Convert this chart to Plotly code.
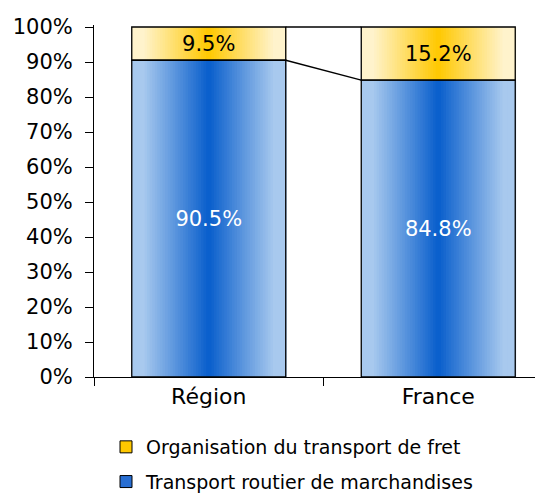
import plotly.graph_objects as go

categories = ["Région", "France"]
transport_routier = [90.5, 84.8]
organisation_fret = [9.5, 15.2]
series_names = ["Organisation du transport de fret", "Transport routier de marchandises"]
y_ticks = [0, 10, 20, 30, 40, 50, 60, 70, 80, 90, 100]
y_tick_labels = ["0%", "10%", "20%", "30%", "40%", "50%", "60%", "70%", "80%", "90%", "100%"]

FONT = "DejaVu Sans"
BAR_W = 0.671
N = 60

BLUE_EDGE = (168, 201, 238)
BLUE_CENTER = (8, 94, 204)
YEL_EDGE = (255, 243, 204)
YEL_CENTER = (255, 200, 0)


def grad_color(edge, center, t):
    d = abs(t - 0.5) * 2
    m = min(d / 0.85, 1.0)
    c = [round(center[i] + (edge[i] - center[i]) * m) for i in range(3)]
    return f"rgb({c[0]},{c[1]},{c[2]})"


xs = list(range(len(categories)))
fig = go.Figure()


def add_gradient(vals, bases, edge, center):
    sw = BAR_W / N
    gx, gy, gb, goff, gcol = [], [], [], [], []
    for k in range(N):
        t = (k + 0.5) / N
        for i, x in enumerate(xs):
            gx.append(x)
            gy.append(vals[i])
            gb.append(bases[i])
            goff.append(-BAR_W / 2 + k * sw)
            gcol.append(grad_color(edge, center, t))
    fig.add_trace(go.Bar(
        x=gx, y=gy, base=gb, offset=goff, width=sw * 1.35,
        marker=dict(color=gcol, line=dict(width=0)),
        showlegend=False, hoverinfo="skip"))


add_gradient(transport_routier, [0] * len(xs), BLUE_EDGE, BLUE_CENTER)
add_gradient(organisation_fret, transport_routier, YEL_EDGE, YEL_CENTER)

fig.add_trace(go.Bar(
    x=xs, y=transport_routier, base=[0] * len(xs), width=BAR_W,
    marker=dict(color="rgba(0,0,0,0)", line=dict(color="black", width=1.3)),
    text=[f"{v:.1f}%" for v in transport_routier], textposition="inside",
    insidetextanchor="middle", textangle=0,
    textfont=dict(family=FONT, size=21, color="white"),
    showlegend=False, hoverinfo="skip"))
fig.add_trace(go.Bar(
    x=xs, y=organisation_fret, base=transport_routier, width=BAR_W,
    marker=dict(color="rgba(0,0,0,0)", line=dict(color="black", width=1.3)),
    text=[f"{v:.1f}%" for v in organisation_fret], textposition="inside",
    insidetextanchor="middle", textangle=0,
    textfont=dict(family=FONT, size=21, color="black"),
    showlegend=False, hoverinfo="skip"))

tops = [round(transport_routier[i] + organisation_fret[i], 6) for i in xs]
line_x = [xs[0] + BAR_W / 2, xs[1] - BAR_W / 2]
fig.add_trace(go.Scatter(
    x=line_x, y=transport_routier, mode="lines",
    line=dict(color="black", width=1.3),
    showlegend=False, hoverinfo="skip"))
fig.add_trace(go.Scatter(
    x=line_x, y=tops, mode="lines",
    line=dict(color="black", width=1.3),
    showlegend=False, hoverinfo="skip"))

fig.add_trace(go.Bar(x=[None], y=[None], name=series_names[0],
                     marker=dict(color="rgb(255,200,0)", line=dict(color="black", width=1)),
                     legendgroup="a"))
fig.add_trace(go.Bar(x=[None], y=[None], name=series_names[1],
                     marker=dict(color="rgb(40,110,210)", line=dict(color="black", width=1)),
                     legendgroup="b"))

# The page body adds an 8px offset, so the figure is 8px smaller
FIG_W, FIG_H = 535, 485
PLOT_L, PLOT_T, PLOT_B = 86, 17, 369
PLOT_W = FIG_W - PLOT_L
PLOT_H = PLOT_B - PLOT_T

fig.update_layout(
    width=FIG_W, height=FIG_H,
    margin=dict(l=PLOT_L, r=0, t=PLOT_T, b=FIG_H - PLOT_B, autoexpand=False),
    barmode="overlay",
    plot_bgcolor="white", paper_bgcolor="white",
    font=dict(family=FONT, size=21, color="black"),
    uniformtext=dict(minsize=21, mode="show"),
    xaxis=dict(
        range=[-0.5, 1.4564], tickvals=xs, ticktext=categories,
        ticks="", showline=True, linecolor="black", linewidth=1,
        showgrid=False, zeroline=False, tickfont=dict(size=22),
        automargin=False, tickangle=0,
        minor=dict(tickvals=[-0.5, 0.5], ticks="outside", ticklen=8,
                   tickcolor="black", tickwidth=1, showgrid=False),
    ),
    yaxis=dict(
        range=[0, 100.57], tickvals=y_ticks, ticktext=y_tick_labels,
        ticks="outside", ticklen=8, tickcolor="black", tickwidth=1,
        ticklabelstandoff=8, automargin=False,
        showline=True, linecolor="black", linewidth=1,
        showgrid=False, zeroline=False, tickfont=dict(size=21),
    ),
    legend=dict(
        x=(98 - PLOT_L) / PLOT_W, y=(PLOT_B - 493) / PLOT_H,
        xanchor="left", yanchor="bottom",
        font=dict(family=FONT, size=19), traceorder="grouped",
        tracegroupgap=7, bgcolor="rgba(0,0,0,0)",
    ),
    showlegend=True,
)

fig.write_html("out.html")
